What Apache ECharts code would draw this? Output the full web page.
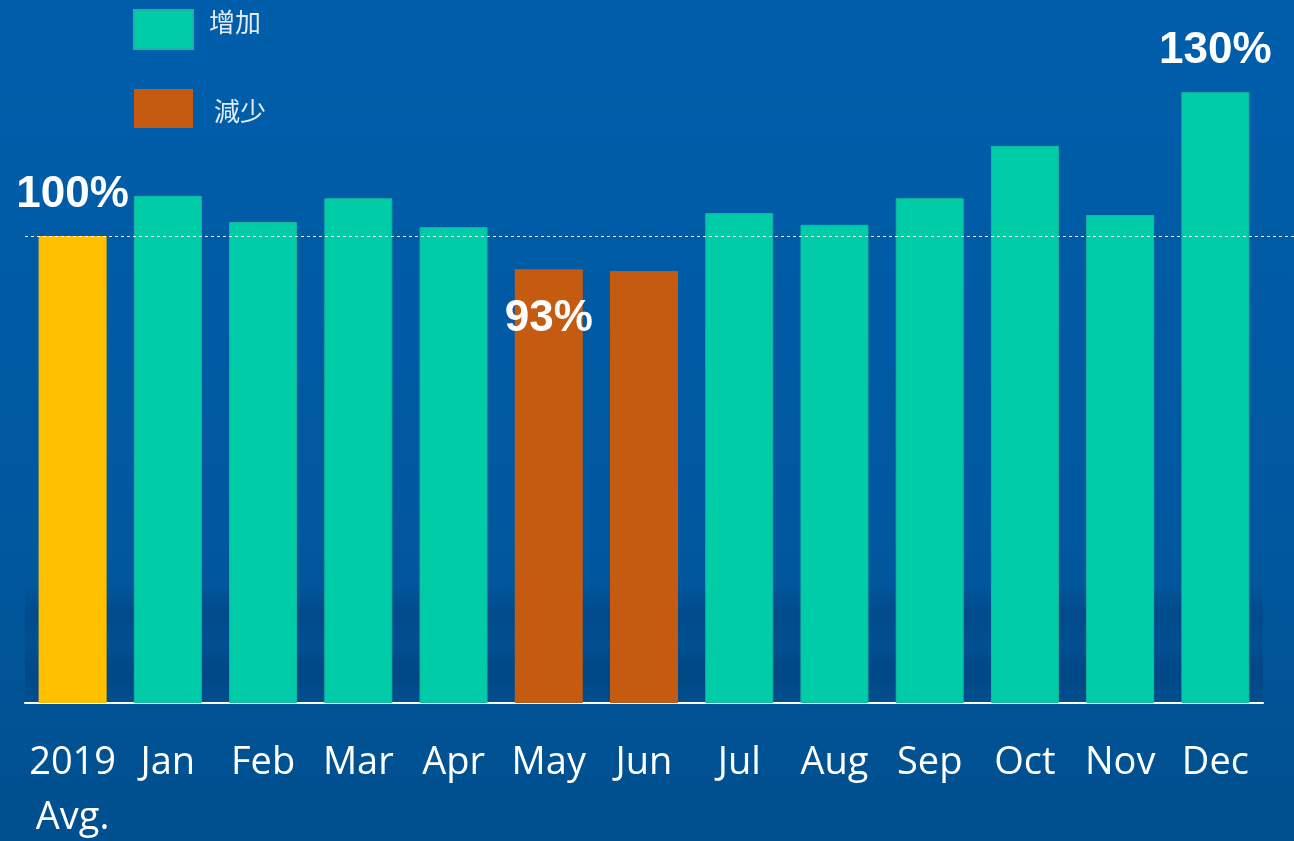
<!DOCTYPE html>
<html>
<head>
<meta charset="utf-8">
<script src="https://cdn.jsdelivr.net/npm/echarts@6/dist/echarts.min.js"></script>
<style>
html,body{margin:0;padding:0;background:#0059a2;}
#chart{width:1294px;height:841px;}
</style>
</head>
<body>
<div id="chart"></div>
<script>
// Data
const categories = ['2019\nAvg.', 'Jan', 'Feb', 'Mar', 'Apr', 'May', 'Jun', 'Jul', 'Aug', 'Sep', 'Oct', 'Nov', 'Dec'];
const values = [100, 108.6, 103.0, 108.1, 101.9, 92.9, 92.5, 104.9, 102.4, 108.1, 119.3, 104.5, 130.8];
const labelTexts = ['100%', '', '', '', '', '93%', '', '', '', '', '', '', '130%'];
const baselineValue = 100;
const seriesNames = ['增加', '減少'];

const chart = echarts.init(document.getElementById('chart'));

const labelBase = {
  show: true,
  color: '#ffffff',
  fontFamily: 'Liberation Sans, Arial, sans-serif',
  fontWeight: 'bold',
  fontSize: 44,
  formatter: p => labelTexts[p.dataIndex]
};

function makeData(pred) {
  return values.map((v, i) => {
    if (!pred(v, i)) return '-';
    const item = { value: v };
    if (labelTexts[i]) {
      item.label = Object.assign({}, labelBase,
        v < baselineValue ? { position: 'insideTop', distance: 28 } : { position: 'top', distance: 19 });
    }
    return item;
  });
}

const baseData = makeData((v, i) => i === 0);
const upData = makeData((v, i) => i > 0 && v >= baselineValue);
const downData = makeData((v, i) => i > 0 && v < baselineValue);

const legendTextBase = { color: '#e3ebf4', fontSize: 26, fontFamily: 'Noto Sans CJK TC' };

const option = {
  backgroundColor: {
    type: 'linear', x: 0, y: 0, x2: 0, y2: 1,
    colorStops: [
      { offset: 0, color: '#005eab' },
      { offset: 0.6, color: '#0059a0' },
      { offset: 1, color: '#004f8e' }
    ]
  },
  animation: false,
  graphic: [{
    type: 'rect',
    left: 25, top: 585, z: 0,
    shape: { width: 1238, height: 118 },
    style: {
      fill: {
        type: 'linear', x: 0, y: 0, x2: 0, y2: 1,
        colorStops: [
          { offset: 0, color: 'rgba(0,40,90,0)' },
          { offset: 0.25, color: 'rgba(0,40,90,0.25)' },
          { offset: 0.5, color: 'rgba(0,40,90,0.1)' },
          { offset: 0.75, color: 'rgba(0,40,90,0.3)' },
          { offset: 1, color: 'rgba(0,40,90,0.08)' }
        ]
      }
    }
  }],
  legend: {
    data: seriesNames,
    orient: 'vertical',
    left: 133, top: 9,
    padding: 0,
    itemWidth: 59, itemHeight: 39, itemGap: 39,
    icon: 'rect',
    formatter: name => name === seriesNames[0] ? '{a|' + name + '}' : '{b|' + name + '}',
    textStyle: Object.assign({}, legendTextBase, {
      rich: {
        a: Object.assign({}, legendTextBase, { padding: [0, 0, 14, 11] }),
        b: Object.assign({}, legendTextBase, { padding: [6, 0, 0, 16] })
      }
    })
  },
  grid: [
    { left: 25, right: 31, top: 2.5, bottom: 138, containLabel: false, outerBoundsMode: 'none' },
    { left: 25, right: 0, top: 2.5, bottom: 138, containLabel: false, outerBoundsMode: 'none' }
  ],
  xAxis: [{
    type: 'category',
    gridIndex: 0,
    data: categories,
    axisLine: { show: true, lineStyle: { color: '#ffffff', width: 2 } },
    axisTick: { show: false },
    axisLabel: {
      color: '#ffffff',
      fontFamily: 'Open Sans',
      fontSize: 38,
      lineHeight: 55,
      margin: 33,
      interval: 0
    }
  }, {
    type: 'value', gridIndex: 1, min: 0, max: 1, show: false
  }],
  yAxis: [{
    type: 'value', gridIndex: 0, min: 0, max: 150,
    show: false,
    splitLine: { show: false }
  }, {
    type: 'value', gridIndex: 1, min: 0, max: 150,
    show: false,
    splitLine: { show: false }
  }],
  series: [
    {
      name: '基準', type: 'bar', barWidth: 68, barGap: '-100%',
      itemStyle: { color: '#ffc000' },
      data: baseData
    },
    {
      name: seriesNames[0], type: 'bar', barWidth: 68, barGap: '-100%',
      itemStyle: { color: '#00cca8', borderColor: '#14b8a0', borderWidth: 1 },
      data: upData
    },
    {
      name: seriesNames[1], type: 'bar', barWidth: 68, barGap: '-100%',
      itemStyle: { color: '#c55a11' },
      data: downData
    },
    {
      name: 'ref', type: 'line', xAxisIndex: 1, yAxisIndex: 1,
      data: [],
      markLine: {
        silent: true, symbol: 'none',
        label: { show: false },
        lineStyle: { color: '#ffffff', type: [3, 3], width: 1, opacity: 0.9 },
        data: [{ yAxis: baselineValue }]
      }
    }
  ]
};
chart.setOption(option);
</script>
</body>
</html>
